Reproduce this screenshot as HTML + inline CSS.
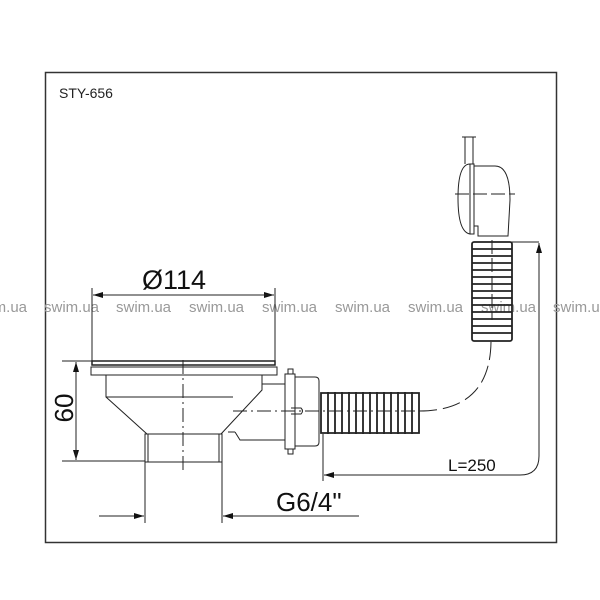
<!DOCTYPE html>
<html><head><meta charset="utf-8"><style>
html,body{margin:0;padding:0;background:#fff;width:600px;height:600px;overflow:hidden}
svg{display:block}
text{font-family:"Liberation Sans",sans-serif}
</style></head><body>
<svg width="600" height="600" viewBox="0 0 600 600" xmlns="http://www.w3.org/2000/svg">
<defs>
<marker id="ar" viewBox="0 0 10 6" refX="10" refY="3" markerWidth="14" markerHeight="6" markerUnits="userSpaceOnUse" orient="auto"><path d="M0,0 L10,3 L0,6 z" fill="#111"/></marker>
</defs>
<rect x="45.5" y="72.5" width="511" height="470" fill="none" stroke="#333" stroke-width="1.5"/>
<text x="59" y="98" font-size="14" fill="#222">STY-656</text>

<g fill="#999" font-size="15">
<text x="-28" y="312">swim.ua</text><text x="44" y="312">swim.ua</text><text x="116" y="312">swim.ua</text>
<text x="189" y="312">swim.ua</text><text x="262" y="312">swim.ua</text><text x="335" y="312">swim.ua</text>
<text x="408" y="312">swim.ua</text><text x="481" y="312">swim.ua</text><text x="553" y="312">swim.ua</text>
</g>

<g stroke="#222" stroke-width="1" fill="none">
<line x1="92" y1="288" x2="92" y2="361"/><line x1="275" y1="288" x2="275" y2="361"/>
<line x1="93" y1="295" x2="274" y2="295" marker-end="url(#ar)"/>
<line x1="274" y1="295" x2="93" y2="295" marker-end="url(#ar)"/>
<rect x="92" y="361" width="183" height="4" stroke-width="1.5"/>
<rect x="91" y="367" width="186" height="8"/>
<path d="M106,375 L106,397 L147,434 M262,375 L262,390 L221,434"/>
<line x1="106" y1="397" x2="233" y2="397"/>
<rect x="145" y="434" width="77" height="28"/>
<line x1="148" y1="434" x2="148" y2="462"/><line x1="219" y1="434" x2="219" y2="462"/>
<path d="M262,384 L285,384 M235,432 L240,440 L285,440 M228,432 L235,432"/>
<rect x="285" y="374" width="10" height="75"/>
<rect x="288" y="369" width="5" height="5"/><rect x="288" y="449" width="5" height="5"/>
<path d="M295,377 L315,377 Q319,377 319,381 L319,442 Q319,446 315,446 L295,446"/>
<path d="M291,408 L301,408 Q304,411 301,414 L291,414"/>
<g stroke-width="1.8">
<path d="M321,393 h98 v40 h-98 z"/>
<line x1="328" y1="392" x2="328" y2="434"/><line x1="335" y1="392" x2="335" y2="434"/>
<line x1="342" y1="392" x2="342" y2="434"/><line x1="349" y1="392" x2="349" y2="434"/>
<line x1="356" y1="392" x2="356" y2="434"/><line x1="363" y1="392" x2="363" y2="434"/>
<line x1="370" y1="392" x2="370" y2="434"/><line x1="377" y1="392" x2="377" y2="434"/>
<line x1="384" y1="392" x2="384" y2="434"/><line x1="391" y1="392" x2="391" y2="434"/>
<line x1="398" y1="392" x2="398" y2="434"/><line x1="405" y1="392" x2="405" y2="434"/>
<line x1="412" y1="392" x2="412" y2="434"/>
</g>
<path d="M419,411 Q490,411 491,342" stroke-dasharray="18,6"/>
<g stroke-width="1.8">
<rect x="472" y="242" width="40" height="99" rx="2"/>
<line x1="472" y1="249" x2="512" y2="249"/><line x1="472" y1="256" x2="512" y2="256"/>
<line x1="472" y1="263" x2="512" y2="263"/><line x1="472" y1="270" x2="512" y2="270"/>
<line x1="472" y1="277" x2="512" y2="277"/><line x1="472" y1="284" x2="512" y2="284"/>
<line x1="472" y1="291" x2="512" y2="291"/><line x1="472" y1="298" x2="512" y2="298"/>
<line x1="472" y1="305" x2="512" y2="305"/><line x1="472" y1="312" x2="512" y2="312"/>
<line x1="472" y1="319" x2="512" y2="319"/><line x1="472" y1="326" x2="512" y2="326"/>
<line x1="472" y1="333" x2="512" y2="333"/>
</g>
<path d="M474,166 L495,166 Q510,166 510,200 L508,236 L478,236 L478,226 L474,226 z"/>
<path d="M470,164 Q458,164 458,198 Q458,232 470,234 z"/>
<rect x="470" y="164" width="4" height="70"/>
<line x1="465" y1="137" x2="465" y2="164"/><line x1="473" y1="137" x2="473" y2="164"/>
<line x1="462" y1="137" x2="476" y2="137"/>
<line x1="455" y1="194" x2="515" y2="194" stroke-dasharray="14,4"/>
<line x1="183" y1="360" x2="183" y2="472" stroke-dasharray="14,4,2,4"/>
<line x1="233" y1="411" x2="425" y2="411" stroke-dasharray="14,4,2,4"/>
<line x1="492" y1="240" x2="492" y2="320" stroke-dasharray="14,4"/>
<line x1="62" y1="361" x2="92" y2="361"/><line x1="62" y1="461" x2="145" y2="461"/>
<line x1="76" y1="362" x2="76" y2="460" marker-end="url(#ar)"/>
<line x1="76" y1="460" x2="76" y2="362" marker-end="url(#ar)"/>
<line x1="145" y1="462" x2="145" y2="523"/><line x1="222" y1="462" x2="222" y2="523"/>
<line x1="99" y1="516" x2="144" y2="516" marker-end="url(#ar)"/>
<line x1="359" y1="516" x2="223" y2="516" marker-end="url(#ar)"/>
<line x1="323" y1="434" x2="323" y2="481"/>
<line x1="509" y1="242" x2="539" y2="242"/>
<path d="M539,243 L539,456 Q539,475 520,475 L324,475" marker-end="url(#ar)"/>
<line x1="539" y1="300" x2="539" y2="243" marker-end="url(#ar)"/>
</g>

<text x="142" y="289" font-size="27" fill="#111">Ø114</text>
<text x="276" y="511" font-size="26" fill="#111">G6/4"</text>
<text x="448" y="471" font-size="17" fill="#111">L=250</text>
<text transform="translate(73,408) rotate(-90)" text-anchor="middle" font-size="26" fill="#111">60</text>
</svg>
</body></html>
